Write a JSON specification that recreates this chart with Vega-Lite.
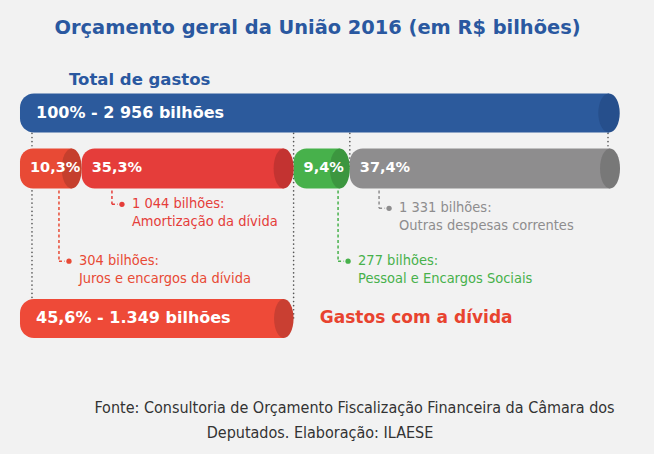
{
  "$schema": "https://vega.github.io/schema/vega-lite/v6.json",
  "width": 654,
  "height": 454,
  "autosize": {"type": "fit", "contains": "padding"},
  "padding": 0,
  "background": "#f2f2f2",
  "config": {"view": {"stroke": null}},
  "datasets": {
    "texts": [
      {"kind": "title", "text": "Orçamento geral da União 2016 (em R$ bilhões)", "x": 1466, "y": 5.1},
      {"kind": "foot", "text": "Fonte: Consultoria de Orçamento Fiscalização Financeira da Câmara dos", "x": 1648, "y": 90.8},
      {"kind": "foot", "text": "Deputados. Elaboração: ILAESE", "x": 1478, "y": 96.4}
    ],
    "total": [{"label": "Total de gastos", "start": 0, "end": 2956, "level": 24.3, "labelLevel": 16.9, "text": "100% - 2 956 bilhões"}],
    "segments": [
      {"cat": "Juros e encargos da dívida", "start": 0, "end": 304, "level": 36.8, "pct": "10,3%"},
      {"cat": "Amortização da dívida", "start": 304, "end": 1348, "level": 36.8, "pct": "35,3%"},
      {"cat": "Pessoal e Encargos Sociais", "start": 1348, "end": 1625, "level": 36.8, "pct": "9,4%"},
      {"cat": "Outras despesas correntes", "start": 1625, "end": 2956, "level": 36.8, "pct": "37,4%"}
    ],
    "debt": [{"start": 0, "end": 1349, "level": 70.6, "text": "45,6% - 1.349 bilhões", "label": "Gastos com a dívida"}],
    "guides": [
      {"at": 0, "side": "left", "from": 24.3, "to": 70.6},
      {"at": 1348, "side": "mid", "from": 24.3, "to": 70.6},
      {"at": 1625, "side": "mid", "from": 24.3, "to": 36.8},
      {"at": 2956, "side": "right", "from": 24.3, "to": 36.8}
    ],
    "notes": [
      {"cat": "Juros e encargos da dívida", "anchor": 192, "from": 36.8, "level": 57.7, "line1": "304 bilhões:", "line2": "Juros e encargos da dívida"},
      {"cat": "Amortização da dívida", "anchor": 453, "from": 36.8, "level": 44.9, "line1": "1 044 bilhões:", "line2": "Amortização da dívida"},
      {"cat": "Pessoal e Encargos Sociais", "anchor": 1567, "from": 36.8, "level": 57.7, "line1": "277 bilhões:", "line2": "Pessoal e Encargos Sociais"},
      {"cat": "Outras despesas correntes", "anchor": 1769, "from": 36.8, "level": 45.8, "line1": "1 331 bilhões:", "line2": "Outras despesas correntes"}
    ]
  },
  "layer": [
    {
      "data": {"name": "texts"},
      "transform": [{"filter": "datum.kind == 'title'"}],
      "mark": {"type": "text", "font": "DejaVu Sans", "fontWeight": "bold", "fontSize": 19.4, "color": "#2a58a0", "align": "center", "baseline": "middle"},
      "encoding": {
        "x": {"field": "x", "type": "quantitative", "axis": null, "scale": {"domain": [-98.5, 3123.5], "nice": false, "zero": false}},
        "y": {"field": "y", "type": "quantitative", "axis": null, "scale": {"domain": [0, 100], "reverse": true, "nice": false, "zero": false}},
        "text": {"field": "text"}
      }
    },
    {
      "data": {"name": "texts"},
      "transform": [{"filter": "datum.kind == 'foot'"}],
      "mark": {"type": "text", "font": "Liberation Sans Narrow, DejaVu Sans Condensed, Roboto", "fontSize": 16, "color": "#333333", "align": "center", "baseline": "middle"},
      "encoding": {"x": {"field": "x", "type": "quantitative", "axis": null}, "y": {"field": "y", "type": "quantitative", "axis": null}, "text": {"field": "text"}}
    },
    {
      "data": {"name": "total"},
      "mark": {"type": "text", "font": "DejaVu Sans", "fontWeight": "bold", "fontSize": 16.5, "color": "#2a58a0", "align": "left", "baseline": "middle", "dx": 49},
      "encoding": {"x": {"field": "start", "type": "quantitative", "axis": null}, "y": {"field": "labelLevel", "type": "quantitative", "axis": null}, "text": {"field": "label"}}
    },
    {
      "data": {"name": "guides"},
      "transform": [{"filter": "datum.side == 'left'"}],
      "mark": {"type": "rule", "color": "#555555", "strokeWidth": 1.6, "strokeDash": [0.1, 4], "strokeCap": "round", "xOffset": 12},
      "encoding": {"x": {"field": "at", "type": "quantitative", "axis": null}, "y": {"field": "from", "type": "quantitative", "axis": null}, "y2": {"field": "to"}}
    },
    {
      "data": {"name": "guides"},
      "transform": [{"filter": "datum.side == 'mid'"}],
      "mark": {"type": "rule", "color": "#555555", "strokeWidth": 1.6, "strokeDash": [0.1, 4], "strokeCap": "round"},
      "encoding": {"x": {"field": "at", "type": "quantitative", "axis": null}, "y": {"field": "from", "type": "quantitative", "axis": null}, "y2": {"field": "to"}}
    },
    {
      "data": {"name": "guides"},
      "transform": [{"filter": "datum.side == 'right'"}],
      "mark": {"type": "rule", "color": "#555555", "strokeWidth": 1.6, "strokeDash": [0.1, 4], "strokeCap": "round", "xOffset": -12},
      "encoding": {"x": {"field": "at", "type": "quantitative", "axis": null}, "y": {"field": "from", "type": "quantitative", "axis": null}, "y2": {"field": "to"}}
    },
    {
      "data": {"name": "notes"},
      "mark": {"type": "rule", "strokeWidth": 1.5, "strokeDash": [3, 2.5]},
      "encoding": {
        "x": {"field": "anchor", "type": "quantitative", "axis": null},
        "y": {"field": "from", "type": "quantitative", "axis": null},
        "y2": {"field": "level"},
        "color": {"field": "cat", "type": "nominal", "legend": null, "scale": {"domain": ["Juros e encargos da dívida", "Amortização da dívida", "Pessoal e Encargos Sociais", "Outras despesas correntes"], "range": ["#e84a35", "#e53d3a", "#47b14b", "#8e8d8e"]}}
      }
    },
    {
      "data": {"name": "notes"},
      "mark": {"type": "rule", "strokeWidth": 1.5, "strokeDash": [3, 2.5], "x2Offset": 6},
      "encoding": {
        "x": {"field": "anchor", "type": "quantitative", "axis": null},
        "x2": {"field": "anchor"},
        "y": {"field": "level", "type": "quantitative", "axis": null},
        "color": {"field": "cat", "type": "nominal", "legend": null}
      }
    },
    {
      "data": {"name": "notes"},
      "mark": {"type": "point", "shape": "circle", "filled": true, "size": 28, "opacity": 1, "xOffset": 10},
      "encoding": {
        "x": {"field": "anchor", "type": "quantitative", "axis": null},
        "y": {"field": "level", "type": "quantitative", "axis": null},
        "color": {"field": "cat", "type": "nominal", "legend": null}
      }
    },
    {
      "data": {"name": "notes"},
      "mark": {"type": "text", "font": "Liberation Sans Narrow, DejaVu Sans Condensed, Roboto", "fontSize": 14.5, "align": "left", "baseline": "middle", "dx": 20},
      "encoding": {
        "x": {"field": "anchor", "type": "quantitative", "axis": null},
        "y": {"field": "level", "type": "quantitative", "axis": null},
        "text": {"field": "line1"},
        "color": {"field": "cat", "type": "nominal", "legend": null}
      }
    },
    {
      "data": {"name": "notes"},
      "mark": {"type": "text", "font": "Liberation Sans Narrow, DejaVu Sans Condensed, Roboto", "fontSize": 14.5, "align": "left", "baseline": "middle", "dx": 20, "dy": 18},
      "encoding": {
        "x": {"field": "anchor", "type": "quantitative", "axis": null},
        "y": {"field": "level", "type": "quantitative", "axis": null},
        "text": {"field": "line2"},
        "color": {"field": "cat", "type": "nominal", "legend": null}
      }
    },
    {
      "data": {"name": "total"},
      "mark": {"type": "bar", "orient": "horizontal", "size": 39, "color": "#2c5a9c", "x2Offset": -11, "cornerRadiusTopLeft": 14, "cornerRadiusBottomLeft": 14},
      "encoding": {"x": {"field": "start", "type": "quantitative", "axis": null}, "x2": {"field": "end"}, "y": {"field": "level", "type": "quantitative", "axis": null}}
    },
    {
      "data": {"name": "total"},
      "mark": {"type": "point", "shape": "M0,-1 A0.55,1 0 1,1 0,1 A0.55,1 0 1,1 0,-1 Z", "size": 1521, "filled": true, "opacity": 1, "color": "#264f8c", "strokeWidth": 0, "xOffset": -11},
      "encoding": {"x": {"field": "end", "type": "quantitative", "axis": null}, "y": {"field": "level", "type": "quantitative", "axis": null}}
    },
    {
      "data": {"name": "total"},
      "mark": {"type": "text", "font": "DejaVu Sans", "fontWeight": "bold", "fontSize": 16, "color": "white", "align": "left", "baseline": "middle", "dx": 16},
      "encoding": {"x": {"field": "start", "type": "quantitative", "axis": null}, "y": {"field": "level", "type": "quantitative", "axis": null}, "text": {"field": "text"}}
    },
    {
      "data": {"name": "segments"},
      "mark": {"type": "bar", "orient": "horizontal", "size": 40, "x2Offset": -10, "cornerRadiusTopLeft": 13, "cornerRadiusBottomLeft": 13},
      "encoding": {
        "x": {"field": "start", "type": "quantitative", "axis": null},
        "x2": {"field": "end"},
        "y": {"field": "level", "type": "quantitative", "axis": null},
        "color": {"field": "cat", "type": "nominal", "legend": null}
      }
    },
    {
      "data": {"name": "segments"},
      "mark": {"type": "point", "shape": "M0,-1 A0.5,1 0 1,1 0,1 A0.5,1 0 1,1 0,-1 Z", "size": 1600, "filled": true, "opacity": 1, "strokeWidth": 0, "xOffset": -10},
      "encoding": {
        "x": {"field": "end", "type": "quantitative", "axis": null},
        "y": {"field": "level", "type": "quantitative", "axis": null},
        "color": {"field": "cat", "type": "nominal", "legend": null}
      }
    },
    {
      "data": {"name": "segments"},
      "mark": {"type": "point", "shape": "M0,-1 A0.5,1 0 1,1 0,1 A0.5,1 0 1,1 0,-1 Z", "size": 1600, "filled": true, "opacity": 0.15, "color": "#000000", "strokeWidth": 0, "xOffset": -10},
      "encoding": {
        "x": {"field": "end", "type": "quantitative", "axis": null},
        "y": {"field": "level", "type": "quantitative", "axis": null}
      }
    },
    {
      "data": {"name": "segments"},
      "mark": {"type": "text", "font": "DejaVu Sans", "fontWeight": "bold", "fontSize": 14.5, "color": "white", "align": "left", "baseline": "middle", "dx": 10},
      "encoding": {"x": {"field": "start", "type": "quantitative", "axis": null}, "y": {"field": "level", "type": "quantitative", "axis": null}, "text": {"field": "pct"}}
    },
    {
      "data": {"name": "debt"},
      "mark": {"type": "bar", "orient": "horizontal", "size": 39, "color": "#ee4a38", "x2Offset": -10, "cornerRadiusTopLeft": 14, "cornerRadiusBottomLeft": 14},
      "encoding": {"x": {"field": "start", "type": "quantitative", "axis": null}, "x2": {"field": "end"}, "y": {"field": "level", "type": "quantitative", "axis": null}}
    },
    {
      "data": {"name": "debt"},
      "mark": {"type": "point", "shape": "M0,-1 A0.5,1 0 1,1 0,1 A0.5,1 0 1,1 0,-1 Z", "size": 1521, "filled": true, "opacity": 1, "color": "#c93f32", "strokeWidth": 0, "xOffset": -10},
      "encoding": {"x": {"field": "end", "type": "quantitative", "axis": null}, "y": {"field": "level", "type": "quantitative", "axis": null}}
    },
    {
      "data": {"name": "debt"},
      "mark": {"type": "text", "font": "DejaVu Sans", "fontWeight": "bold", "fontSize": 16, "color": "white", "align": "left", "baseline": "middle", "dx": 16},
      "encoding": {"x": {"field": "start", "type": "quantitative", "axis": null}, "y": {"field": "level", "type": "quantitative", "axis": null}, "text": {"field": "text"}}
    },
    {
      "data": {"name": "debt"},
      "mark": {"type": "text", "font": "DejaVu Sans", "fontWeight": "bold", "fontSize": 17, "color": "#e8432f", "align": "left", "baseline": "middle", "dx": 26},
      "encoding": {"x": {"field": "end", "type": "quantitative", "axis": null}, "y": {"field": "level", "type": "quantitative", "axis": null}, "text": {"field": "label"}}
    }
  ]
}
